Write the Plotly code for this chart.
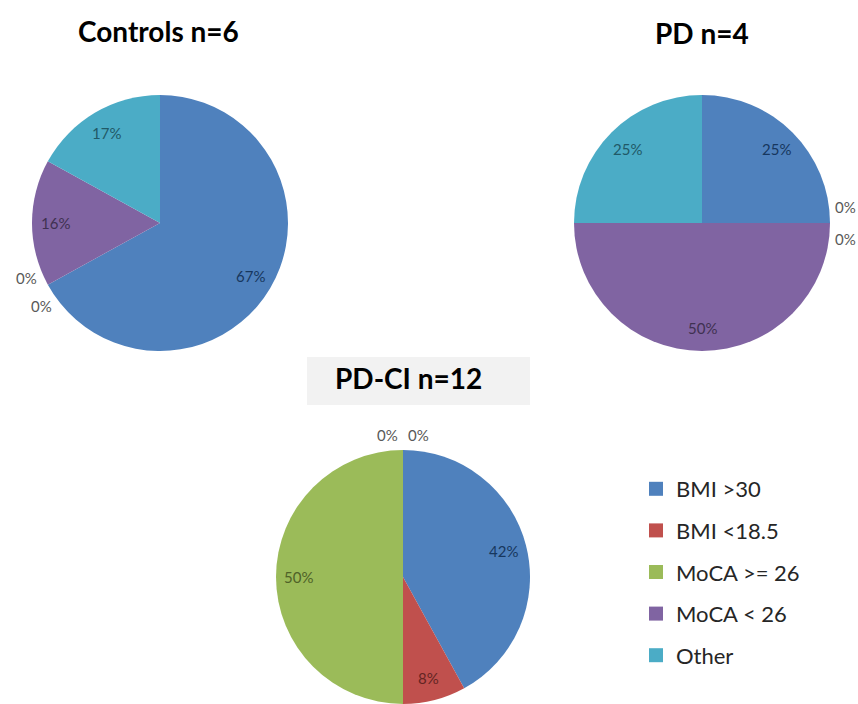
import math
import plotly.graph_objects as go

# Categories shared by the three pies
categories = ["BMI >30", "BMI <18.5", "MoCA >= 26", "MoCA < 26", "Other"]
slice_colors = ["#4F81BD", "#C0504D", "#9BBB59", "#8064A2", "#4BACC6"]
label_colors = ["#17375E", "#632523", "#4F6228", "#3F3151", "#215967"]

# Percentages per group
controls_pct = [67, 0, 0, 16, 17]
pd_pct = [25, 0, 0, 50, 25]
pdci_pct = [42, 8, 50, 0, 0]
group_titles = ["Controls n=6", "PD n=4", "PD-CI n=12"]

W, H = 858, 704
FONT = "Lato"

# Pie placement in pixels: centre x, centre y, radius
pie_geom = [(160, 223, 128), (702, 223, 128), (403, 577, 127)]
title_pos = [(158, 31), (702, 33), (408, 378)]


def px(x, y):
    return x / W, 1 - y / H


def label(x, y, text, font):
    xp, yp = px(x, y)
    return dict(x=xp, y=yp, xref="paper", yref="paper", text=text,
                showarrow=False, xanchor="center", yanchor="middle", font=font)


fig = go.Figure()
annotations = []

for values, (cx, cy, r) in zip([controls_pct, pd_pct, pdci_pct], pie_geom):
    fig.add_trace(go.Pie(
        values=values,
        labels=categories,
        marker=dict(colors=slice_colors, line=dict(width=0)),
        sort=False,
        direction="clockwise",
        rotation=0,
        textinfo="none",
        hoverinfo="label+percent",
        showlegend=False,
        domain=dict(x=[(cx - r) / W, (cx + r) / W],
                    y=[max(0, 1 - (cy + r) / H), 1 - (cy - r) / H]),
    ))

    # data labels: inside for non-zero slices, stacked outside for zero ones
    total = sum(values)
    cum = 0.0
    zero_runs = {}
    for i, v in enumerate(values):
        if v > 0:
            th = (cum + v / 2) / total * 2 * math.pi
            lx = cx + 0.82 * r * math.sin(th)
            ly = cy - 0.82 * r * math.cos(th)
            annotations.append(label(lx, ly, f"{v}%",
                                     dict(family=FONT, size=15, color=label_colors[i])))
        else:
            zero_runs.setdefault(round(cum, 6), []).append(i)
        cum += v
    for c0, idxs in zero_runs.items():
        th = c0 / total * 2 * math.pi
        n = len(idxs)
        for k, i in enumerate(idxs):
            off = (k - (n - 1) / 2) * 31
            lx = cx + 1.12 * r * math.sin(th) - off * math.cos(th)
            ly = cy - 1.12 * r * math.cos(th) - off * math.sin(th)
            annotations.append(label(lx, ly, f"{values[i]}%",
                                     dict(family=FONT, size=15, color="#595959")))

# Group titles
for t, (tx, ty) in zip(group_titles, title_pos):
    annotations.append(label(tx, ty, t,
                             dict(family=FONT, size=28, color="#000000", weight="bold")))

# Legend keys
for cat, col in zip(categories, slice_colors):
    fig.add_trace(go.Scatter(
        x=[None], y=[None], mode="markers", name=cat, legendgroup=cat,
        marker=dict(symbol="square", size=14, color=col),
        hoverinfo="skip",
    ))

bx0, by0 = px(307, 405)
bx1, by1 = px(530, 357)

fig.update_layout(
    width=W, height=H,
    margin=dict(l=0, r=0, t=0, b=0),
    paper_bgcolor="white", plot_bgcolor="white",
    xaxis=dict(visible=False), yaxis=dict(visible=False),
    annotations=annotations,
    shapes=[dict(type="rect", xref="paper", yref="paper",
                 x0=bx0, x1=bx1, y0=by0, y1=by1,
                 fillcolor="#F2F2F2", line=dict(width=0), layer="below")],
    legend=dict(
        x=636 / W, y=1 - 468 / H, xanchor="left", yanchor="top",
        font=dict(family=FONT, size=22, color="#262626"),
        tracegroupgap=10, itemsizing="trace", traceorder="grouped",
        bgcolor="rgba(0,0,0,0)",
    ),
)

fig.write_html("out.html")
